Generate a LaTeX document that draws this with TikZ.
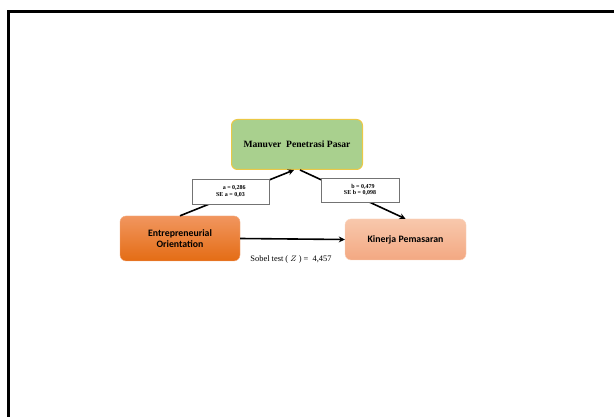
\documentclass[tikz,border=0pt]{standalone}
\usepackage{fontspec}
\setmainfont{Liberation Serif}
\newfontfamily\carlito{Carlito}
\usetikzlibrary{arrows.meta}

\definecolor{mppgreen}{RGB}{169,208,142}
\definecolor{mppgold}{RGB}{235,200,70}
\definecolor{eotop}{RGB}{241,150,95}
\definecolor{eobot}{RGB}{228,108,20}
\definecolor{kptop}{RGB}{248,200,172}
\definecolor{kpbot}{RGB}{243,168,130}

\begin{document}
\begin{tikzpicture}[x=1pt, y=-1pt,
    varbox/.style={rounded corners=6pt, inner sep=0pt, align=center},
    coefbox/.style={draw=black!55, fill=white, line width=0.6pt, inner sep=0pt,
        align=center, font=\fontsize{6}{6.5}\selectfont\bfseries},
    path/.style={line width=1.6pt, -{Stealth[length=6pt, width=6pt]}}]
    % Canvas and frame
    \fill[white] (0,0) rectangle (614,417);
    \useasboundingbox (0,0) rectangle (614,417);
    \draw[line width=3pt] (8.5,417) -- (8.5,12) -- (614,12);

    % Variables
    \node[varbox, fill=mppgreen, draw=mppgold, line width=1pt,
        minimum width=131pt, minimum height=50pt,
        font=\fontsize{9.6}{11}\selectfont\bfseries] (mpp) at (297,144.5)
        {Manuver\ \ Penetrasi Pasar};
    \node[varbox, top color=eotop, bottom color=eobot, draw=eotop!80!white,
        minimum width=120pt, minimum height=45pt,
        font=\carlito\fontsize{9.8}{11.5}\selectfont\bfseries] (eo) at (180,238.5)
        {Entrepreneurial\\Orientation};
    \node[varbox, top color=kptop, bottom color=kpbot, draw=kptop!80!white,
        minimum width=121pt, minimum height=41pt,
        font=\carlito\fontsize{9.8}{11}\selectfont\bfseries] (kp) at (405.5,239.5)
        {Kinerja Pemasaran};

    % Paths
    \draw[path] (eo.north) -- ([xshift=-3pt]mpp.south);
    \draw[path] ([xshift=3pt]mpp.south) -- (kp.north);
    \draw[path] (eo.east) -- (kp.west);

    % Coefficients
    \node[coefbox, minimum width=77pt, minimum height=25pt] (ca) at (230.5,191.5)
        {\ \ \ \ \ a = 0,286\\SE a = 0,03};
    \node[coefbox, minimum width=78pt, minimum height=24pt] (cb) at (360,190)
        {\ \ \ \ b = 0,479\\SE b = 0,098};
    \node[font=\fontsize{8.4}{9}\selectfont, anchor=north] (sobel) at (291,252.5)
        {Sobel test ( $Z$ ) =\ \ 4,457};
\end{tikzpicture}
\end{document}
